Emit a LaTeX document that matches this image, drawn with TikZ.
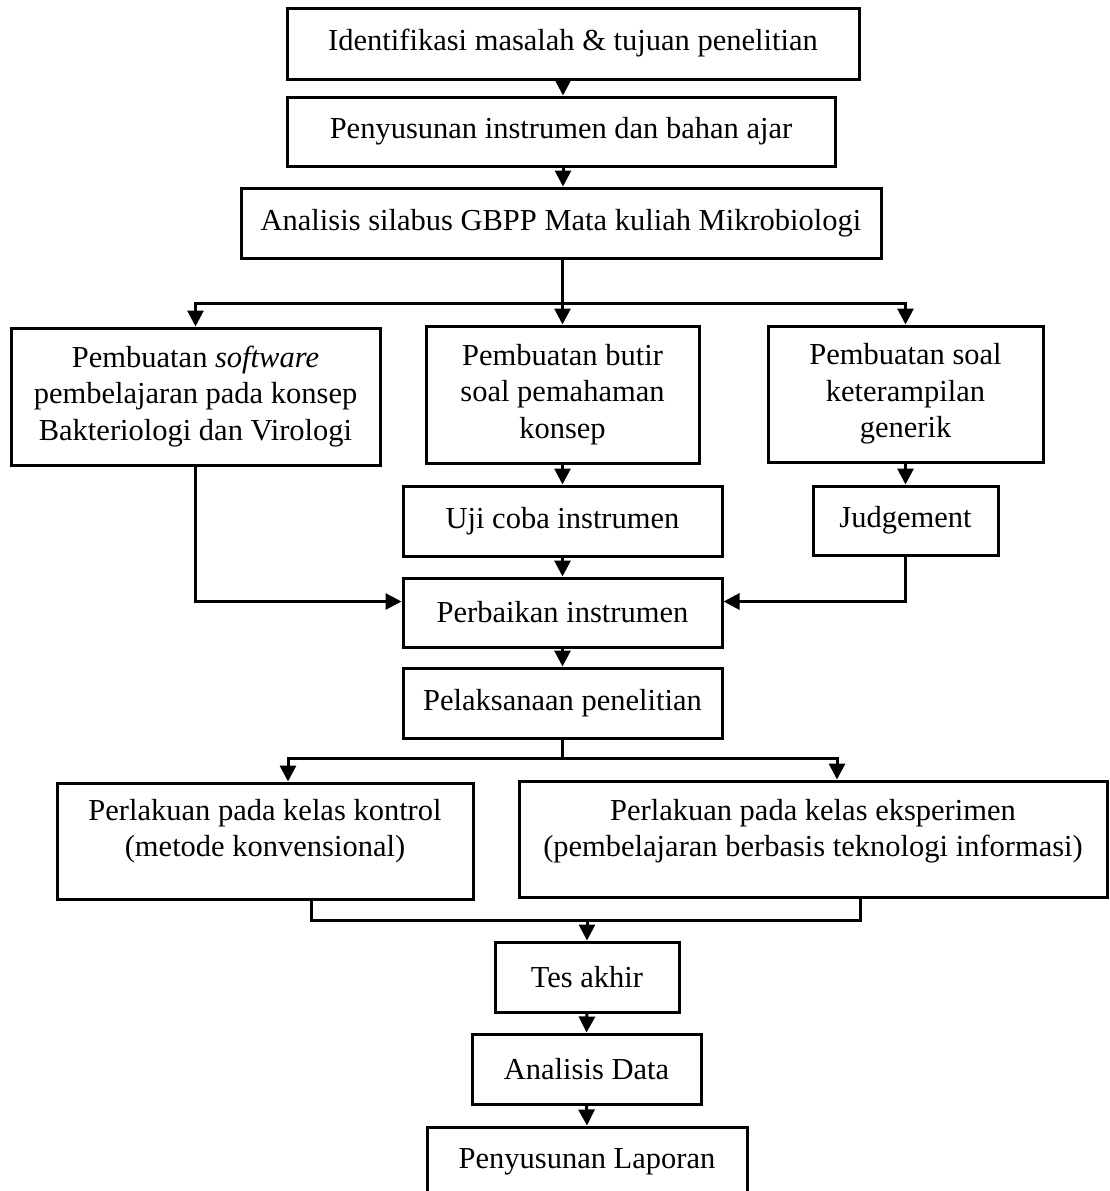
\documentclass[tikz,border=0pt]{standalone}
\usepackage{fontspec}
\setmainfont{Liberation Serif}
\usetikzlibrary{arrows.meta}
\begin{document}
\begin{tikzpicture}[x=1pt,y=-1pt,
 box/.style={draw, line width=3pt, inner sep=0pt, align=center, font=\fontsize{30.5}{36.5}\selectfont},
 txt/.style={inner sep=0pt, align=center, font=\fontsize{30.5}{36.5}\selectfont},
 arr/.style={line width=3pt, -{Triangle[length=16pt,width=16pt]}},
 ln/.style={line width=3pt}]
\useasboundingbox (0,0) rectangle (1110,1191);
% top chain
\node[box, minimum width=572pt, minimum height=71pt] (b1) at (573,43.5) {Identifikasi masalah \& tujuan penelitian};
\node[box, minimum width=548pt, minimum height=69pt] (b2) at (561,131.5) {Penyusunan instrumen dan bahan ajar};
\node[box, minimum width=640pt, minimum height=70pt] (b3) at (561,223) {Analisis silabus GBPP Mata kuliah Mikrobiologi};
% three branches
\node[box, minimum width=369pt, minimum height=137pt] (A) at (195.5,396.5) {Pembuatan \textit{software}\\pembelajaran pada konsep\\Bakteriologi dan Virologi};
\node[box, minimum width=273pt, minimum height=137pt] (B) at (562.5,394.5) {Pembuatan butir\\soal pemahaman\\konsep};
\node[box, minimum width=275pt, minimum height=136pt] (C) at (905.5,394) {Pembuatan soal\\keterampilan\\generik};
\node[box, minimum width=319pt, minimum height=70pt] (U) at (562.5,521) {Uji coba instrumen};
\node[box, minimum width=185pt, minimum height=69pt] (J) at (905.5,520.5) {Judgement};
\node[box, minimum width=319pt, minimum height=69pt] (P) at (562.5,612.5) {Perbaikan instrumen};
\node[box, minimum width=319pt, minimum height=70pt] (L) at (562.5,703) {Pelaksanaan penelitian};
% two classes
\node[box, minimum width=416pt, minimum height=116pt] (K) at (265,841) {};
\node[txt] (Kt) at (265,831) {Perlakuan pada kelas kontrol\\(metode konvensional)};
\node[box, minimum width=588pt, minimum height=116pt] (E) at (813,839) {};
\node[txt] (Et) at (813,831) {Perlakuan pada kelas eksperimen\\(pembelajaran berbasis teknologi informasi)};
% bottom chain
\node[box, minimum width=184pt, minimum height=70pt] (T) at (587,977) {Tes akhir};
\node[box, minimum width=229pt, minimum height=70pt] (D) at (586.5,1069) {Analisis Data};
\node[box, minimum width=320pt, minimum height=70pt] (R) at (587,1162) {Penyusunan Laporan};
% connectors
\draw[arr] (b1.south -| 563,0) -- (b2.north -| 563,0);
\draw[arr] (b2.south -| 563,0) -- (b3.north -| 563,0);
\coordinate (j1) at (562.5,303);
\draw[ln] (b3.south -| j1) -- (j1);
\draw[arr] (j1) -| (A.north);
\draw[arr] (j1) -- (B.north);
\draw[arr] (j1) -| (C.north);
\draw[arr] (B.south) -- (U.north);
\draw[arr] (C.south) -- (J.north);
\draw[arr] (U.south) -- (P.north);
\draw[arr] (A.south) |- ([yshift=11pt]P.west);
\draw[arr] (J.south) |- ([yshift=11pt]P.east);
\draw[arr] (P.south) -- (L.north);
\coordinate (j2) at (562.5,758);
\draw[ln] (L.south) -- (j2);
\draw[arr] (j2) -| ([xshift=23pt]K.north);
\draw[arr] (j2) -| ([xshift=24pt]E.north);
\coordinate (j3) at (587,920);
\draw[ln] ([xshift=46pt]K.south) |- (j3) -| ([xshift=47pt]E.south);
\draw[arr] (j3) -- (T.north);
\draw[arr] (T.south) -- (D.north);
\draw[arr] (D.south) -- (R.north);
\end{tikzpicture}
\end{document}
